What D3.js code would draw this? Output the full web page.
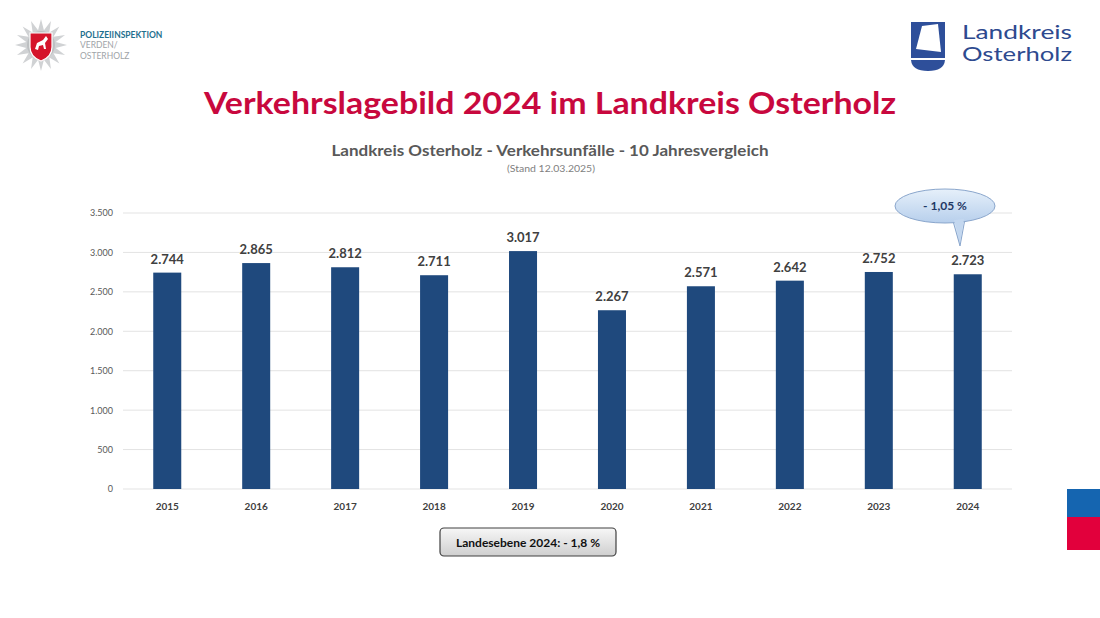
<!DOCTYPE html>
<html><head><meta charset="utf-8">
<script src="https://cdn.jsdelivr.net/npm/d3@7"></script>
<style>body{margin:0;background:#fff;}svg{display:block;font-family:Lato,"Open Sans",sans-serif;}</style>
</head><body><svg id="c" width="1100" height="618"></svg>
<script>
const years = ["2015","2016","2017","2018","2019","2020","2021","2022","2023","2024"];
const accidents = [2744,2865,2812,2711,3017,2267,2571,2642,2752,2723];
const yTicks = [0,500,1000,1500,2000,2500,3000,3500];
const title = "Verkehrslagebild 2024 im Landkreis Osterholz";
const subtitle = "Landkreis Osterholz - Verkehrsunfälle - 10 Jahresvergleich";
const stand = "(Stand 12.03.2025)";
const calloutText = "- 1,05 %";
const boxText = "Landesebene 2024: - 1,8 %";

const svg = d3.select("#c");
const de = d3.formatLocale({decimal:",",thousands:".",grouping:[3],currency:["","€"]});
const fmt = de.format(",d");

const defs = svg.append("defs");
const g1 = defs.append("linearGradient").attr("id","callGrad").attr("x1",0).attr("y1",0).attr("x2",0).attr("y2",1);
g1.append("stop").attr("offset","0%").attr("stop-color","#e6f0fa");
g1.append("stop").attr("offset","100%").attr("stop-color","#b7cfec");
const g2 = defs.append("linearGradient").attr("id","boxGrad").attr("x1",0).attr("y1",0).attr("x2",0).attr("y2",1);
g2.append("stop").attr("offset","0%").attr("stop-color","#f7f7f7");
g2.append("stop").attr("offset","100%").attr("stop-color","#cfcfcf");

// Titles
svg.append("text").attr("x",550).attr("y",114).attr("text-anchor","middle")
  .attr("font-size",30).attr("font-weight","bold").attr("fill","#c8083e")
  .attr("textLength",692).attr("lengthAdjust","spacingAndGlyphs").text(title);
svg.append("text").attr("x",550).attr("y",156).attr("text-anchor","middle")
  .attr("font-size",16).attr("font-weight","bold").attr("fill","#595959")
  .attr("textLength",437).attr("lengthAdjust","spacingAndGlyphs").text(subtitle);
svg.append("text").attr("x",551).attr("y",172).attr("text-anchor","middle")
  .attr("font-size",9).attr("fill","#7f7f7f")
  .attr("textLength",88).attr("lengthAdjust","spacingAndGlyphs").text(stand);

// Chart
const x = d3.scaleBand().domain(years).range([123,1012]).paddingInner(0.685).paddingOuter(0.34);
const y = d3.scaleLinear().domain([0,3500]).range([489,213]);

const grid = svg.append("g");
grid.selectAll("line").data(yTicks).join("line")
  .attr("x1",123).attr("x2",1012).attr("y1",d=>y(d)).attr("y2",d=>y(d))
  .attr("stroke","#e3e3e3").attr("stroke-width",1);

const yAxis = svg.append("g").attr("transform","translate(123,0)")
  .call(d3.axisLeft(y).tickValues(yTicks).tickFormat(fmt).tickSize(0).tickPadding(10));
yAxis.select(".domain").remove();
yAxis.selectAll("text").attr("font-size",9).attr("fill","#595959").attr("font-family","Lato,sans-serif");

const xAxis = svg.append("g").attr("transform","translate(0,489)")
  .call(d3.axisBottom(x).tickSize(0).tickPadding(14));
xAxis.select(".domain").remove();
xAxis.selectAll("text").attr("font-size",10).attr("font-weight","bold").attr("fill","#404040").attr("font-family","Lato,sans-serif");

svg.append("g").selectAll("rect").data(accidents).join("rect")
  .attr("x",(d,i)=>x(years[i])).attr("width",x.bandwidth())
  .attr("y",d=>y(d)).attr("height",d=>y(0)-y(d))
  .attr("fill","#1f497d");

svg.append("g").selectAll("text").data(accidents).join("text")
  .attr("x",(d,i)=>x(years[i])+x.bandwidth()/2).attr("y",d=>y(d)-9)
  .attr("text-anchor","middle").attr("font-size",13).attr("font-weight","bold").attr("fill","#404040")
  .text(d=>fmt(d));

// Callout
const cx = 945, cy = 206;
const callout = svg.append("g");
callout.append("path")
  .attr("d",`M ${cx+8} ${cy+15} L ${cx+15} ${cy+40} L ${cx+20} ${cy+13} Z`)
  .attr("fill","url(#callGrad)").attr("stroke","#8aa6cc");
callout.append("ellipse").attr("cx",cx).attr("cy",cy).attr("rx",50).attr("ry",17)
  .attr("fill","url(#callGrad)").attr("stroke","#8aa6cc");
callout.append("path")
  .attr("d",`M ${cx+9} ${cy+14} L ${cx+15} ${cy+37} L ${cx+19} ${cy+13} Z`)
  .attr("fill","#c3d7ef").attr("stroke","none");
callout.append("text").attr("x",cx).attr("y",cy+4).attr("text-anchor","middle")
  .attr("font-size",12).attr("font-weight","bold").attr("fill","#1f3864").text(calloutText);

// Bottom box
svg.append("rect").attr("x",440).attr("y",528).attr("width",176).attr("height",28).attr("rx",4)
  .attr("fill","url(#boxGrad)").attr("stroke","#404040").attr("stroke-width",1.2);
svg.append("text").attr("x",528).attr("y",547).attr("text-anchor","middle")
  .attr("font-size",12).attr("font-weight","bold").attr("fill","#111").text(boxText);

// Side squares
svg.append("rect").attr("x",1067).attr("y",489).attr("width",33).attr("height",28).attr("fill","#1565b0");
svg.append("rect").attr("x",1067).attr("y",517).attr("width",33).attr("height",33).attr("fill","#e2003c");

// Police logo (star + shield)
const star = svg.append("g").attr("transform","translate(41,45)");
const pts = [];
for (let i=0;i<32;i++){ const r = i%2===0?26:15; const a = i*Math.PI/16 - Math.PI/2; pts.push([r*Math.cos(a), r*Math.sin(a)]); }
star.append("polygon").attr("points",pts.map(p=>p.join(",")).join(" ")).attr("fill","#d0d2d4");
star.append("circle").attr("r",14).attr("fill","#bcbfc1");
star.append("path").attr("d","M -11 -12 L 11 -12 L 11 2 Q 11 12 0 16 Q -11 12 -11 2 Z").attr("fill","#d5142b").attr("stroke","#fff").attr("stroke-width",1.2);
star.append("path").attr("d","M -6 4 L -4 -2 L 2 -5 L 5 -9 L 7 -6 L 4 -2 L 5 4 L 3 4 L 2 0 L -2 1 L -3 5 Z").attr("fill","#fff");
svg.append("text").attr("x",80).attr("y",38).attr("font-size",8.5).attr("font-weight","bold").attr("fill","#1e6f8e").text("POLIZEIINSPEKTION");
svg.append("text").attr("x",80).attr("y",48).attr("font-size",8.5).attr("fill","#a0a4a8").text("VERDEN/");
svg.append("text").attr("x",80).attr("y",59).attr("font-size",8.5).attr("fill","#a0a4a8").text("OSTERHOLZ");

// Landkreis logo
const lk = svg.append("g");
lk.append("path").attr("d","M 911 22 L 945 22 L 945 58 L 911 58 Z").attr("fill","#2e4f9a");
lk.append("path").attr("d","M 911 60 L 945 60 Q 944 71 928 71 Q 912 71 911 60 Z").attr("fill","#2e4f9a");
lk.append("path").attr("d","M 922 26 L 938 24 L 941 52 L 916 49 Z").attr("fill","#fff");
svg.append("text").attr("x",962).attr("y",39).attr("font-size",18.5).attr("fill","#2e4a8f")
  .attr("textLength",110).attr("lengthAdjust","spacingAndGlyphs").text("Landkreis");
svg.append("text").attr("x",962).attr("y",61).attr("font-size",18.5).attr("fill","#2e4a8f")
  .attr("textLength",110).attr("lengthAdjust","spacingAndGlyphs").text("Osterholz");
</script></body></html>
